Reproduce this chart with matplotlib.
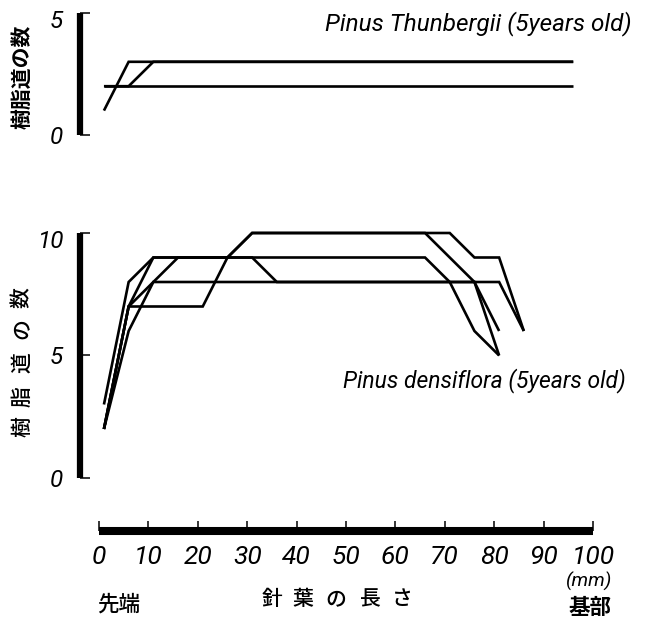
import matplotlib
matplotlib.use("Agg")
import matplotlib.pyplot as plt
from matplotlib.transforms import ScaledTranslation

# ----------------------------
# Datos: número de canales resiníferos a lo largo de la acícula
# ----------------------------
x_top = [1, 6, 11, 16, 21, 26, 31, 36, 41, 46, 51, 56, 61, 66, 71, 76, 81, 86, 91, 96]
thunbergii = [
    [1, 3, 3, 3, 3, 3, 3, 3, 3, 3, 3, 3, 3, 3, 3, 3, 3, 3, 3, 3],
    [2, 2, 3, 3, 3, 3, 3, 3, 3, 3, 3, 3, 3, 3, 3, 3, 3, 3, 3, 3],
    [2, 2, 2, 2, 2, 2, 2, 2, 2, 2, 2, 2, 2, 2, 2, 2, 2, 2, 2, 2],
]

x_d1 = [1, 6, 11, 16, 21, 26, 31, 36, 41, 46, 51, 56, 61, 66, 71, 76, 81]
d1 = [3, 8, 9, 9, 9, 9, 10, 10, 10, 10, 10, 10, 10, 10, 9, 8, 6]
x_d2 = [1, 6, 11, 16, 21, 26, 31, 36, 41, 46, 51, 56, 61, 66, 71, 76, 81, 86]
d2 = [2, 7, 7, 7, 7, 9, 10, 10, 10, 10, 10, 10, 10, 10, 10, 9, 9, 6]
x_d3 = [1, 6, 11, 16, 21, 26, 31, 36, 41, 46, 51, 56, 61, 66, 71, 76, 81, 86]
d3 = [2, 7, 9, 9, 9, 9, 9, 8, 8, 8, 8, 8, 8, 8, 8, 8, 8, 6]
x_d4 = [1, 6, 11, 16, 21, 26, 31, 36, 41, 46, 51, 56, 61, 66, 71, 76, 81]
d4 = [2, 7, 8, 9, 9, 9, 9, 9, 9, 9, 9, 9, 9, 9, 8, 6, 5]
x_d5 = [1, 6, 11, 16, 21, 26, 31, 36, 41, 46, 51, 56, 61, 66, 71, 76, 81]
d5 = [2, 6, 8, 8, 8, 8, 8, 8, 8, 8, 8, 8, 8, 8, 8, 8, 5]
densiflora = [(x_d1, d1), (x_d2, d2), (x_d3, d3), (x_d4, d4), (x_d5, d5)]

xticks = [0, 10, 20, 30, 40, 50, 60, 70, 80, 90, 100]
yticks_top = [0, 5]
yticks_bot = [0, 5, 10]

W, H = 659, 627
NUM = ["Roboto", "DejaVu Sans"]
JP = ["Noto Sans CJK JP", "DejaVu Sans"]


def fx(px):
    return px / W


def fy(py):
    return 1 - py / H


fig = plt.figure(figsize=(W / 100, H / 100), dpi=100)
ax_top = fig.add_axes([0.10525, 0.76523, 0.88455, 0.23349])
ax_bot = fig.add_axes([0.10525, 0.10088, 0.88455, 0.54705])

for ax in (ax_top, ax_bot):
    ax.set_xlim(-6, 112)
    ax.patch.set_alpha(0)
    for s in ("top", "right"):
        ax.spines[s].set_visible(False)
    ax.spines["left"].set_position(("data", -3.85))
    ax.spines["left"].set_linewidth(4.5)
    ax.spines["left"].set_capstyle("butt")
    ax.tick_params(axis="y", direction="in", length=7.5, width=1.1, pad=12,
                   labelsize=17.5)

ax_top.set_ylim(-0.5, 5.5)
ax_top.spines["left"].set_bounds(0, 5)
ax_top.spines["bottom"].set_visible(False)
ax_top.set_xticks([])
ax_top.set_yticks(yticks_top)
ax_top.set_yticklabels([str(v) for v in yticks_top])

ax_bot.set_ylim(-3.5, 10.5)
ax_bot.spines["left"].set_bounds(0, 10)
ax_bot.set_yticks(yticks_bot)
ax_bot.set_yticklabels([str(v) for v in yticks_bot])
ax_bot.spines["bottom"].set_position(("data", -2.16))
ax_bot.spines["bottom"].set_bounds(0, 100)
ax_bot.spines["bottom"].set_linewidth(5.8)
ax_bot.spines["bottom"].set_capstyle("butt")
ax_bot.set_xticks(xticks)
ax_bot.set_xticklabels([str(v) for v in xticks])
ax_bot.tick_params(axis="x", direction="in", length=7, width=1.1, pad=10,
                   labelsize=19)

for ax in (ax_top, ax_bot):
    for lab in ax.get_xticklabels() + ax.get_yticklabels():
        lab.set_family(NUM)
        lab.set_style("italic")

# etiquetas superiores un poco más abajo que su marca
for lab in ax_top.get_yticklabels()[-1:] + ax_bot.get_yticklabels()[-1:]:
    lab.set_transform(lab.get_transform() +
                      ScaledTranslation(0, -0.06, fig.dpi_scale_trans))

for ys in thunbergii:
    ax_top.plot(x_top, ys, color="black", lw=1.9, solid_joinstyle="miter",
                solid_capstyle="butt")
for xs, ys in densiflora:
    ax_bot.plot(xs, ys, color="black", lw=1.9, solid_joinstyle="miter",
                solid_capstyle="butt")

# textos
fig.text(fx(325), fy(30), "Pinus Thunbergii (5years old)", family=NUM,
         style="italic", fontsize=17.5, va="baseline", ha="left")
fig.text(fx(343), fy(387), "Pinus densiflora (5years old)", family=NUM,
         style="italic", fontsize=16.5, va="baseline", ha="left")

fig.text(fx(22), fy(77), "樹脂道の数", family=JP, fontsize=15,
         fontweight="bold", rotation=90, ha="center", va="center")
for ch, py in zip("樹脂道の数", [427, 397, 363, 329, 298]):
    fig.text(fx(22), fy(py), ch, family=JP, fontsize=15, rotation=90,
             fontweight="medium", ha="center", va="center")

for ch, px in zip("針葉の長さ", [272, 303, 336, 370, 402]):
    fig.text(fx(px), fy(599), ch, family=JP, fontsize=15,
             fontweight="medium", ha="center", va="center")
fig.text(fx(119), fy(605), "先端", family=JP, fontsize=15.5,
         fontweight="medium", ha="center", va="center")
fig.text(fx(590), fy(607), "基部", family=JP, fontsize=15.5,
         fontweight="bold", ha="center", va="center")
fig.text(fx(589), fy(581), "(mm)", family=NUM, style="italic",
         fontsize=14, ha="center", va="center")

fig.savefig("out.png", dpi=100)
